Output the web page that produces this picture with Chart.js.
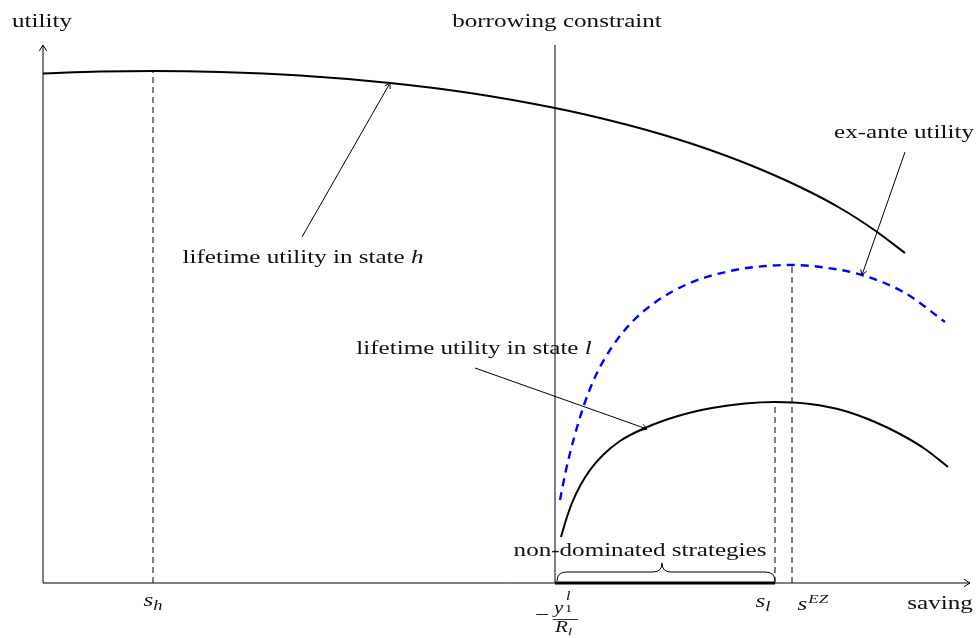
<!DOCTYPE html>
<html>
<head>
<meta charset="utf-8">
<script src="https://cdn.jsdelivr.net/npm/chart.js@4"></script>
<style>
  html, body { margin: 0; padding: 0; background: #fff; }
  #wrap { width: 980px; height: 638px; }
</style>
</head>
<body>
<div id="wrap"><canvas id="c" width="980" height="638"></canvas></div>
<script>
// Saving on the x axis, utility on the y axis (arbitrary units).
const hSaving  = [0, 57, 110, 177, 257, 347, 427, 512, 557, 607, 657, 707, 757, 797, 832, 862];
const hUtility = [509.5, 511.4, 512, 511, 507.5, 500, 490, 475, 465, 452, 436.5, 418, 396, 375, 352.5, 330];

const lSaving  = [518, 523, 529, 537, 547, 560, 577, 602, 635, 669, 702, 732, 767, 802, 832, 857, 882, 905];
const lUtility = [46, 63, 80, 97, 113, 128, 142, 155, 167, 175, 179.5, 181, 179, 172, 161, 149, 134, 116];

const exSaving  = [517, 523, 531, 541, 553, 569, 589, 614, 647, 687, 722, 749, 785, 819, 862, 902];
const exUtility = [83, 113, 145, 178, 208, 236, 261, 282, 300, 312, 317, 318, 315, 308, 290, 261];

// Key saving levels
const sH = 110;          // optimum in state h
const sL = 732;          // optimum in state l
const sEZ = 749;         // ex-ante optimum
const borrowLimit = 512; // -y1^l / R_l

const xMax = 927, yMax = 538;

const FONT = '"Liberation Serif", "DejaVu Serif", serif';
const SX = 1.32;   // horizontal stretch of the text glyphs
const BASE = 19;

function seg(x0, y0, x1, y1) { return [{x: x0, y: y0}, {x: x1, y: y1}]; }
function pts(xs, ys) { return xs.map((x, i) => ({x, y: ys[i]})); }

function arrowHead(ctx, x0, y0, x1, y1, size) {
  const a = Math.atan2(y1 - y0, x1 - x0);
  ctx.beginPath();
  ctx.moveTo(x1 - size * Math.cos(a - 0.55), y1 - size * Math.sin(a - 0.55));
  ctx.lineTo(x1, y1);
  ctx.lineTo(x1 - size * Math.cos(a + 0.55), y1 - size * Math.sin(a + 0.55));
  ctx.stroke();
}

function arrow(ctx, x0, y0, x1, y1) {
  ctx.beginPath();
  ctx.moveTo(x0, y0);
  ctx.lineTo(x1, y1);
  ctx.stroke();
  arrowHead(ctx, x0, y0, x1, y1, 6);
}

function fontOf(p) {
  return (p.it ? 'italic ' : '') + Math.round(p.size || BASE) + 'px ' + FONT;
}

// Draw a run of text pieces, each with its own style, size and vertical shift.
function drawRun(ctx, x, y, parts, align, baseline) {
  ctx.save();
  ctx.textAlign = 'left';
  ctx.textBaseline = baseline || 'alphabetic';
  const widths = parts.map(p => {
    ctx.font = fontOf(p);
    return ctx.measureText(p.t).width * SX + (p.gap || 0);
  });
  const total = widths.reduce((a, b) => a + b, 0);
  let cx = align === 'center' ? x - total / 2 : (align === 'right' ? x - total : x);
  parts.forEach((p, i) => {
    ctx.font = fontOf(p);
    ctx.save();
    ctx.translate(cx, y + (p.dy || 0));
    ctx.scale(SX, 1);
    ctx.fillText(p.t, 0, 0);
    ctx.restore();
    cx += widths[i];
  });
  ctx.restore();
}

function label(ctx, text, x, y) {
  drawRun(ctx, x, y, [{t: text}], 'center', 'middle');
}

const decorations = {
  id: 'decorations',
  afterDatasetsDraw(chart) {
    const ctx = chart.ctx;
    const xs = chart.scales.x, ys = chart.scales.y;
    const X = v => xs.getPixelForValue(v);
    const Y = v => ys.getPixelForValue(v);
    ctx.save();
    ctx.strokeStyle = '#000';
    ctx.fillStyle = '#111';

    // axes with arrow tips
    ctx.lineWidth = 1;
    ctx.beginPath();
    ctx.moveTo(X(0), Y(0)); ctx.lineTo(X(xMax), Y(0));
    ctx.moveTo(X(0), Y(0)); ctx.lineTo(X(0), Y(yMax));
    ctx.stroke();
    arrowHead(ctx, X(0), Y(0), X(xMax), Y(0), 7);
    arrowHead(ctx, X(0), Y(0), X(0), Y(yMax), 7);

    // thick segment of non-dominated strategies
    ctx.lineWidth = 3;
    ctx.beginPath(); ctx.moveTo(X(borrowLimit), Y(0)); ctx.lineTo(X(sL), Y(0)); ctx.stroke();

    // curly brace above it
    ctx.lineWidth = 1;
    const bx0 = X(borrowLimit) + 2, bx1 = X(sL), by = Y(0) - 2;
    const bm = (bx0 + bx1) / 2 - 4;
    const mid = by - 9, tip = by - 18;
    ctx.beginPath();
    ctx.moveTo(bx0, by);
    ctx.quadraticCurveTo(bx0, mid, bx0 + 10, mid);
    ctx.lineTo(bm - 9, mid);
    ctx.quadraticCurveTo(bm, mid, bm, tip);
    ctx.quadraticCurveTo(bm, mid, bm + 9, mid);
    ctx.lineTo(bx1 - 10, mid);
    ctx.quadraticCurveTo(bx1, mid, bx1, by);
    ctx.stroke();

    // annotation arrows
    ctx.lineWidth = 1;
    arrow(ctx, X(259), Y(346), X(347), Y(500));
    arrow(ctx, X(432), Y(215), X(604), Y(154));
    arrow(ctx, X(862), Y(431), X(819), Y(308));

    // plain labels
    label(ctx, 'utility', X(0) - 1, 22);
    label(ctx, 'borrowing constraint', X(borrowLimit) + 2, 22);
    label(ctx, 'ex-ante utility', X(861), 133);
    label(ctx, 'non-dominated strategies', X(597), 551);
    label(ctx, 'saving', X(897), 604);

    drawRun(ctx, X(260), 258, [{t: 'lifetime utility in state '}, {t: 'h', it: true}], 'center', 'middle');
    drawRun(ctx, X(431), 349, [{t: 'lifetime utility in state '}, {t: 'l', it: true}], 'center', 'middle');

    // axis labels with math
    drawRun(ctx, X(sH), 606, [{t: 's', it: true}, {t: 'h', it: true, size: 14, dy: 4}], 'center');
    drawRun(ctx, X(sL) - 12, 607, [{t: 's', it: true}, {t: 'l', it: true, size: 14, dy: 4}], 'center');
    drawRun(ctx, X(sEZ) + 21, 610, [{t: 's', it: true, gap: 1}, {t: 'EZ', it: true, size: 13, dy: -7}], 'center');

    // -y_1^l / R_l
    drawRun(ctx, 542, 616, [{t: '\u2212'}], 'center', 'middle');
    drawRun(ctx, 554, 613, [{t: 'y', it: true, size: 16}], 'left');
    drawRun(ctx, 566, 600, [{t: 'l', it: true, size: 12}], 'left');
    drawRun(ctx, 565, 612, [{t: '1', size: 11}], 'left');
    ctx.lineWidth = 0.8;
    ctx.beginPath(); ctx.moveTo(553, 619.5); ctx.lineTo(578, 619.5); ctx.stroke();
    drawRun(ctx, 555, 632, [{t: 'R', it: true, size: 16}, {t: 'l', it: true, size: 11, dy: 3}], 'left');

    ctx.restore();
  }
};

const curve = (label, data, color, width, dash) => ({
  label, data, borderColor: color, borderWidth: width, borderDash: dash || [],
  pointRadius: 0, cubicInterpolationMode: 'monotone', fill: false, clip: false
});
const dashedV = (label, data) => ({
  label, data, borderColor: '#000', borderWidth: 1, borderDash: [6, 4],
  pointRadius: 0, fill: false, clip: false
});

new Chart(document.getElementById('c'), {
  type: 'line',
  data: {
    datasets: [
      curve('lifetime utility in state h', pts(hSaving, hUtility), '#000', 2),
      curve('lifetime utility in state l', pts(lSaving, lUtility), '#000', 2),
      curve('ex-ante utility', pts(exSaving, exUtility), '#0000ff', 2.4, [8, 6]),
      dashedV('s_h', seg(sH, 0, sH, 512)),
      dashedV('s_l', seg(sL, 0, sL, 181)),
      dashedV('s_EZ', seg(sEZ, 0, sEZ, 318)),
      {
        label: 'borrowing constraint', data: seg(borrowLimit, 0, borrowLimit, yMax),
        borderColor: '#000', borderWidth: 1, pointRadius: 0, fill: false, clip: false
      }
    ]
  },
  options: {
    responsive: false,
    animation: false,
    events: [],
    layout: { padding: { left: 43, right: 10, top: 45, bottom: 55 } },
    plugins: { legend: { display: false }, tooltip: { enabled: false } },
    scales: {
      x: { type: 'linear', min: 0, max: xMax, display: false },
      y: { type: 'linear', min: 0, max: yMax, display: false }
    }
  },
  plugins: [decorations]
});
</script>
</body>
</html>
